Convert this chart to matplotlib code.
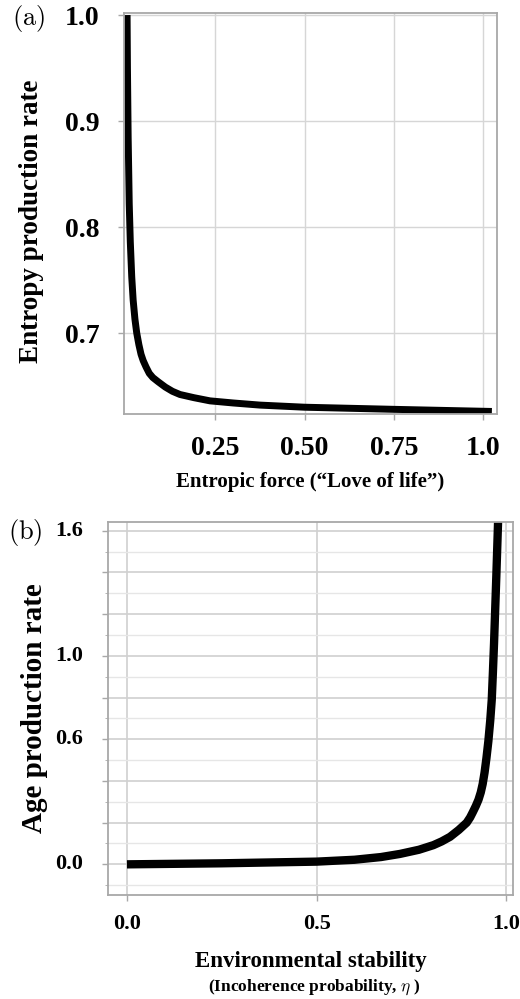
import matplotlib
matplotlib.use('Agg')
import matplotlib.pyplot as plt
from matplotlib.ticker import MultipleLocator

plt.rcParams['font.family'] = ['Liberation Serif', 'DejaVu Serif']
plt.rcParams['mathtext.fontset'] = 'cm'

# (a) entropy production rate vs entropic force
force = [0.003, 0.004, 0.006, 0.009, 0.012, 0.016, 0.020, 0.025, 0.030,
         0.036, 0.042, 0.048, 0.056, 0.065, 0.075, 0.09, 0.11, 0.13, 0.151,
         0.19, 0.235, 0.3, 0.375, 0.5, 0.75, 1.024]
entropy_rate = [1.0, 0.95, 0.885, 0.822, 0.786, 0.753, 0.731, 0.713, 0.700,
                0.689, 0.680, 0.674, 0.668, 0.662, 0.658, 0.654, 0.649,
                0.645, 0.642, 0.639, 0.636, 0.634, 0.632, 0.630, 0.628,
                0.626]

# (b) age production rate vs environmental stability
eta = [0.0, 0.25, 0.5, 0.6, 0.67, 0.72, 0.77, 0.808, 0.83, 0.852, 0.875,
       0.896, 0.905, 0.912, 0.92, 0.927, 0.933, 0.938, 0.943, 0.948, 0.953,
       0.958, 0.962, 0.965, 0.968, 0.971, 0.974, 0.977, 0.980, 0.983]
age_rate = [0.0, 0.005, 0.013, 0.022, 0.035, 0.05, 0.07, 0.092, 0.11, 0.132,
            0.165, 0.2, 0.225, 0.25, 0.28, 0.31, 0.345, 0.385, 0.44, 0.51,
            0.59, 0.69, 0.79, 0.92, 1.06, 1.22, 1.38, 1.55, 1.72, 1.9]

W, H = 520, 999
fig = plt.figure(figsize=(W / 100, H / 100), dpi=100)

grid_col = '#d6d6d6'
frame_col = '#a8a8a8'


def box(left, top, right, bottom):
    return [left / W, 1 - bottom / H, (right - left) / W, (bottom - top) / H]


def style(ax):
    for s in ax.spines.values():
        s.set_color(frame_col)
        s.set_linewidth(1.3)
    ax.tick_params(colors=frame_col, length=4, width=1, labelcolor='black')
    ax.set_axisbelow(True)


# ---- panel (a)
ax1 = fig.add_axes(box(124.3, 12.5, 496.7, 414))
ax1.plot(force, entropy_rate, color='black', lw=5, solid_joinstyle='round',
         solid_capstyle='butt')
ax1.set_xlim(-0.0048, 1.0375)
ax1.set_ylim(0.6236, 1.0024)
ax1.set_xticks([0.25, 0.5, 0.75, 1.0])
ax1.set_xticklabels(['0.25', '0.50', '0.75', '1.0'])
ax1.set_yticks([0.7, 0.8, 0.9, 1.0])
ax1.set_yticklabels(['0.7', '0.8', '0.9', '1.0'])
ax1.grid(True, color=grid_col, lw=1)
style(ax1)
ax1.tick_params(axis='x', pad=12, labelsize=20)
ax1.tick_params(axis='y', pad=14, labelsize=20)
for t in ax1.get_xticklabels() + ax1.get_yticklabels():
    t.set_fontweight('bold')
ax1.set_xlabel('Entropic force (\u201cLove of life\u201d)', fontsize=15,
               fontweight='bold', labelpad=8)
ax1.set_ylabel('Entropy production rate', fontsize=19.5, fontweight='bold')
ax1.yaxis.set_label_coords(-0.215, 0.48)
fig.text(12 / W, 1 - 18 / H, r'$\mathrm{(a)}$', fontsize=19, va='center',
         ha='left')

# ---- panel (b)
ax2 = fig.add_axes(box(108, 521.7, 513, 895))
ax2.plot(eta, age_rate, color='black', lw=6, solid_joinstyle='round',
         solid_capstyle='butt')
ax2.set_xlim(-0.05, 1.018)
ax2.set_ylim(-0.147, 1.643)
ax2.set_xticks([0.0, 0.5, 1.0])
ax2.set_xticklabels(['0.0', '0.5', '1.0'])
ax2.yaxis.set_major_locator(MultipleLocator(0.2))
ax2.yaxis.set_minor_locator(MultipleLocator(0.1))
ax2.set_yticklabels([])
ax2.grid(True, which='major', color='#d0d0d0', lw=1.2)
ax2.grid(True, which='minor', axis='y', color='#e6e6e6', lw=1)
style(ax2)
ax2.tick_params(axis='y', which='minor', length=2, colors=frame_col)
ax2.tick_params(axis='x', pad=10, labelsize=16)
for t in ax2.get_xticklabels():
    t.set_fontweight('bold')
for v, lab in [(0.0, '0.0'), (0.6, '0.6'), (1.0, '1.0'), (1.6, '1.6')]:
    ax2.annotate(lab, xy=(0, v), xycoords=('axes fraction', 'data'),
                 xytext=(-18, 0), textcoords='offset points', ha='right',
                 va='center', fontsize=16, fontweight='bold')
ax2.set_ylabel('Age production rate', fontsize=21, fontweight='bold',
               labelpad=36)
ax2.set_xlabel('Environmental stability', fontsize=16.5, fontweight='bold',
               labelpad=12)
fig.text(314 / W, 1 - 987 / H,
         r'(Incoherence probability, $\eta$ )', fontsize=12.5,
         fontweight='bold', ha='center', va='center')
fig.text(8 / W, 1 - 533 / H, r'$\mathrm{(b)}$', fontsize=19, va='center',
         ha='left')

fig.savefig('out.png', dpi=100)
